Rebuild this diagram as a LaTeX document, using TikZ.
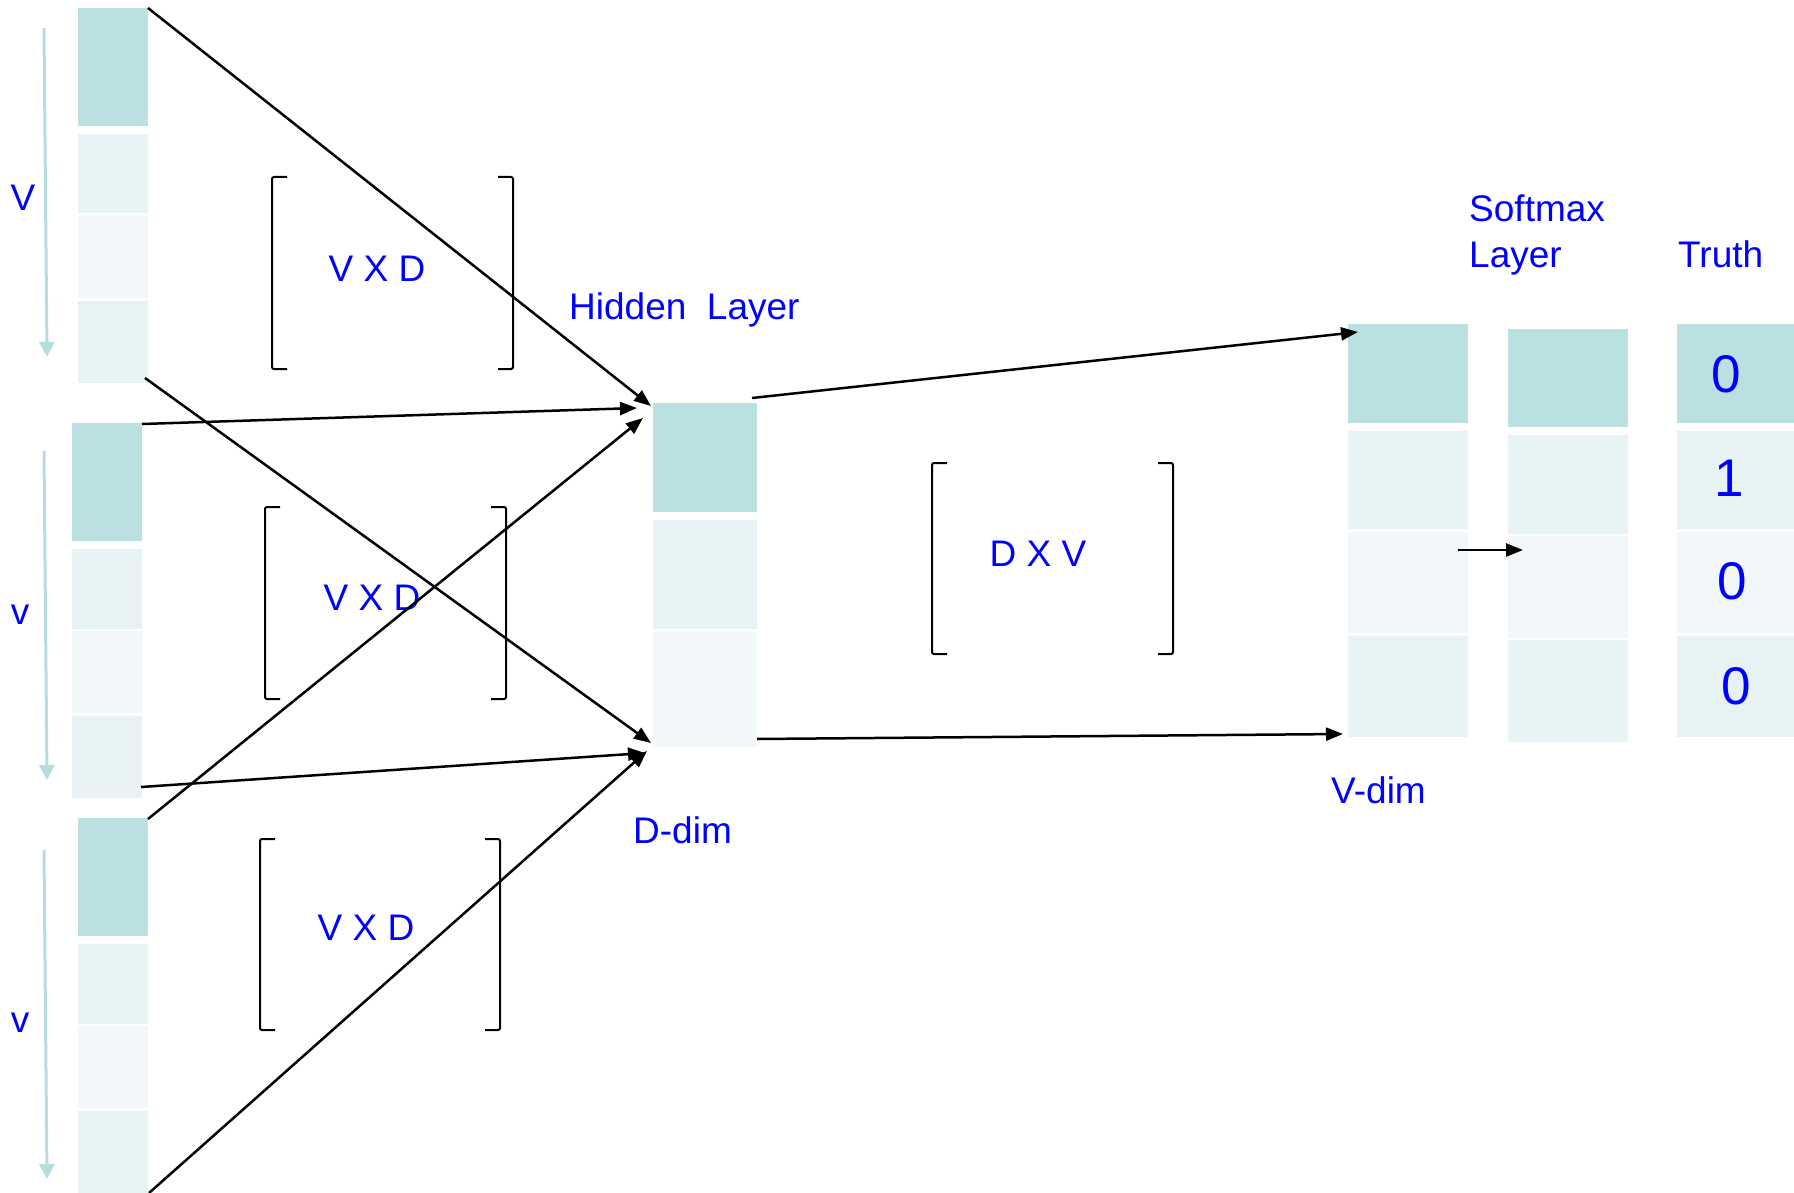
\documentclass[tikz,border=0pt]{standalone}
\usepackage{fontspec}
\setmainfont{Liberation Sans}
\usetikzlibrary{arrows.meta}
\definecolor{cdark}{HTML}{BAE0E2}
\definecolor{clight}{HTML}{E6F2F4}
\definecolor{cpale}{HTML}{F2F8FA}
\definecolor{varrow}{HTML}{B5DDE0}
\definecolor{txtblue}{RGB}{0,0,255}
\newcommand\mycell[6]{\node[cellbox,fill=#6,minimum width=#3 pt,minimum height=#4 pt] (#5) at (#1,#2) {};}
\newcommand\mybrk[4]{%
  \draw[brk] (#1+15,#3) -- (#1,#3) -- (#1,#4) -- (#1+15,#4);
  \draw[brk] (#2-15,#3) -- (#2,#3) -- (#2,#4) -- (#2-15,#4);}
\begin{document}
\begin{tikzpicture}[x=1pt,y=-1pt,
  cellbox/.style={draw=none,inner sep=0pt,outer sep=0pt},
  lbl/.style={text=txtblue,inner sep=0pt,font=\fontsize{37}{42}\selectfont},
  dig/.style={text=txtblue,inner sep=0pt,font=\fontsize{53}{60}\selectfont},
  conn/.style={line width=2.5pt,-{Triangle[length=17pt,width=13pt]}},
  varr/.style={draw=varrow,line width=3pt,-{Triangle[length=15pt,width=15pt]}},
  brk/.style={line width=2pt,rounded corners=2pt}]
\useasboundingbox (0,0) rectangle (1794,1193);
% column 1
\mycell{113}{67}{70}{118}{a1}{cdark}
\mycell{113}{173.5}{70}{79}{a2}{clight}
\mycell{113}{257}{70}{82}{a3}{cpale}
\mycell{113}{342}{70}{82}{a4}{clight}
% column 2
\mycell{107}{482}{70}{118}{b1}{cdark}
\mycell{107}{589}{70}{80}{b2}{clight}
\mycell{107}{672}{70}{82}{b3}{cpale}
\mycell{107}{757}{70}{82}{b4}{clight}
% column 3
\mycell{113}{877}{70}{118}{d1}{cdark}
\mycell{113}{984}{70}{80}{d2}{clight}
\mycell{113}{1067}{70}{82}{d3}{cpale}
\mycell{113}{1152}{70}{82}{d4}{clight}
% hidden
\mycell{705}{457.5}{104}{109}{h1}{cdark}
\mycell{705}{574.5}{104}{109}{h2}{clight}
\mycell{705}{689.5}{104}{115}{h3}{cpale}
% output col A
\mycell{1408}{373.5}{120}{99}{o1}{cdark}
\mycell{1408}{480}{120}{98}{o2}{clight}
\mycell{1408}{582.5}{120}{101}{o3}{cpale}
\mycell{1408}{686.5}{120}{101}{o4}{clight}
% softmax col B
\mycell{1568}{378}{120}{98}{s1}{cdark}
\mycell{1568}{484.5}{120}{99}{s2}{clight}
\mycell{1568}{587}{120}{102}{s3}{cpale}
\mycell{1568}{691}{120}{102}{s4}{clight}
% truth col C
\mycell{1740}{373.5}{126}{99}{t1}{cdark}
\mycell{1740}{480}{126}{98}{t2}{clight}
\mycell{1740}{582.5}{126}{101}{t3}{cpale}
\mycell{1740}{686.5}{126}{101}{t4}{clight}
\node[dig,anchor=base] (tn1) at (1726,392) {0};
\node[dig,anchor=base] (tn2) at (1729,496) {1};
\node[dig,anchor=base] (tn3) at (1732,599) {0};
\node[dig,anchor=base] (tn4) at (1736,704) {0};
% V arrows
\coordinate (va1) at (44,28);  \coordinate (vb1) at (47,357);
\coordinate (va2) at (44,451); \coordinate (vb2) at (47,780);
\coordinate (va3) at (44,850); \coordinate (vb3) at (47,1179);
\draw[varr] (va1) -- (vb1);
\draw[varr] (va2) -- (vb2);
\draw[varr] (va3) -- (vb3);
\node[lbl,anchor=base] (lv1) at (23,211) {V};
\node[lbl,anchor=base] (lv2) at (20,624) {v};
\node[lbl,anchor=base] (lv3) at (20,1032) {v};
% brackets
\mybrk{272}{513}{177}{369}
\mybrk{265}{506}{507}{699}
\mybrk{260}{500}{839}{1030}
\mybrk{932}{1173}{463}{654}
\node[lbl,anchor=base] (m1) at (377,281) {V X D};
\node[lbl,anchor=base] (m2) at (372,610) {V X D};
\node[lbl,anchor=base] (m3) at (366,940) {V X D};
\node[lbl,anchor=base] (m4) at (1038,566) {D X V};
% labels
\node[lbl,anchor=base west] (hl) at (569,319) {Hidden\ \ Layer};
\node[lbl,anchor=base west] (dd) at (633,843) {D-dim};
\node[lbl,anchor=base west] (vd) at (1331,803) {V-dim};
\node[lbl,anchor=base west] (sm) at (1469,222) {Softmax};
\node[lbl,anchor=base west] (ly) at (1469,267) {Layer};
\node[lbl,anchor=base west] (tr) at (1678,267) {Truth};
% connector end points
\coordinate (p1) at (148,8);    \coordinate (q1) at (651,406);
\coordinate (p2) at (145,378);  \coordinate (q2) at (651,743);
\coordinate (p3) at (142,424);  \coordinate (q3) at (637,408);
\coordinate (p4) at (148,819);  \coordinate (q4) at (643,418);
\coordinate (p5) at (141,787);  \coordinate (q5) at (645,753);
\coordinate (p6) at (149,1193); \coordinate (q6) at (647,751);
\coordinate (p7) at (752,398);  \coordinate (q7) at (1358,332);
\coordinate (p8) at (757,739);  \coordinate (q8) at (1343,734);
\coordinate (p9) at (1458,550); \coordinate (q9) at (1523,550);
\foreach \i in {1,...,9} {\draw[conn] (p\i) -- (q\i);}
\end{tikzpicture}
\end{document}
